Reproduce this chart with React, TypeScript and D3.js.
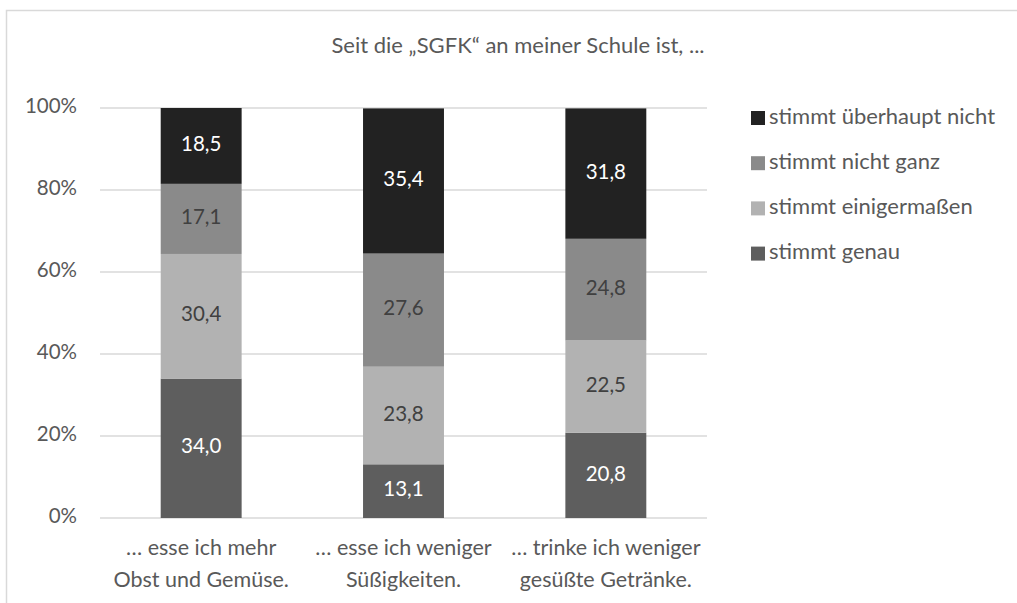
import React from "react";
import * as d3 from "d3";

const categories = [
  ["… esse ich mehr", "Obst und Gemüse."],
  ["… esse ich weniger", "Süßigkeiten."],
  ["… trinke ich weniger", "gesüßte Getränke."],
];
const seriesNames = ["stimmt genau", "stimmt einigermaßen", "stimmt nicht ganz", "stimmt überhaupt nicht"];
const genau = [34.0, 13.1, 20.8];
const einigermassen = [30.4, 23.8, 22.5];
const nichtGanz = [17.1, 27.6, 24.8];
const ueberhauptNicht = [18.5, 35.4, 31.8];
const yTicks = [0, 20, 40, 60, 80, 100];
const title = "Seit die „SGFK“ an meiner Schule ist, ...";

const seriesValues = [genau, einigermassen, nichtGanz, ueberhauptNicht];
const colors = ["#5e5e5e", "#b2b2b2", "#8a8a8a", "#222222"];
const labelColors = ["#ffffff", "#404040", "#404040", "#ffffff"];

const W = 1017;
const H = 603;
const FONT = "Lato, 'Open Sans', sans-serif";

export default function App() {
  const left = 100, right = 707, top = 108, bottom = 518;
  const x = d3.scaleBand<number>().domain([0, 1, 2]).range([left, right]).paddingInner(0.6).paddingOuter(0.3);
  const y = d3.scaleLinear().domain([0, 100]).range([bottom, top]);

  const rows = categories.map((_, i) => {
    const o: any = { i };
    seriesNames.forEach((s, k) => (o[s] = seriesValues[k][i]));
    return o;
  });
  const stack = d3.stack<any>().keys(seriesNames)(rows);

  const legendOrder = [3, 2, 1, 0];

  return (
    <svg width={W} height={H} style={{ position: "absolute", left: 0, top: 0, display: "block" }} fontFamily={FONT}>
      <rect x={0} y={0} width={W} height={H} fill="#fff" />
      <rect x={6.5} y={10.5} width={W + 20} height={H + 20} fill="none" stroke="#d9d9d9" strokeWidth={1.5} />
      <text x={518} y={47} textAnchor="middle" dominantBaseline="middle" fontSize={22} fill="#595959">
        {title}
      </text>
      {yTicks.map((t) => (
        <g key={t}>
          <line x1={left} x2={right} y1={y(t)} y2={y(t)} stroke="#d9d9d9" strokeWidth={1.5} />
          <text x={77} y={y(t)} textAnchor="end" dominantBaseline="middle" fontSize={20.5} fill="#595959">
            {t}%
          </text>
        </g>
      ))}
      {stack.map((layer, k) => (
        <g key={k}>
          {layer.map((d, i) => {
            const bx = x(i)!;
            const y0 = y(d[1]);
            const y1 = y(d[0]);
            return (
              <g key={i}>
                <rect x={bx} y={y0} width={x.bandwidth()} height={y1 - y0} fill={colors[k]} />
                <text
                  x={bx + x.bandwidth() / 2}
                  y={(y0 + y1) / 2}
                  textAnchor="middle"
                  dominantBaseline="middle"
                  fontSize={20.5}
                  fill={labelColors[k]}
                >
                  {seriesValues[k][i].toFixed(1).replace(".", ",")}
                </text>
              </g>
            );
          })}
        </g>
      ))}
      {categories.map((lines, i) => (
        <text key={i} x={x(i)! + x.bandwidth() / 2} textAnchor="middle" fontSize={21.5} fill="#595959">
          {lines.map((l, j) => (
            <tspan key={j} x={x(i)! + x.bandwidth() / 2} y={550 + j * 32} dominantBaseline="middle">
              {l}
            </tspan>
          ))}
        </text>
      ))}
      {legendOrder.map((k, r) => (
        <g key={k} transform={`translate(751, ${118 + r * 45.2})`}>
          <rect x={0} y={-7} width={14} height={14} fill={colors[k]} />
          <text x={18} y={0} dominantBaseline="middle" fontSize={22} fill="#595959">
            {seriesNames[k]}
          </text>
        </g>
      ))}
    </svg>
  );
}
